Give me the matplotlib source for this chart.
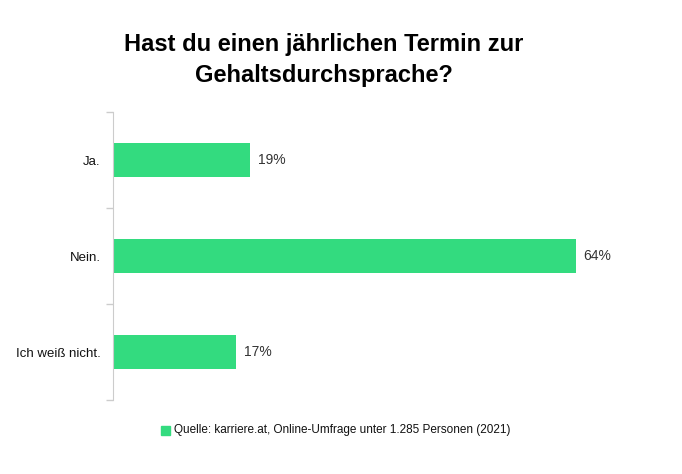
import matplotlib.pyplot as plt
from matplotlib.patches import Rectangle

categories = ["Ja.", "Nein.", "Ich weiß nicht."]
values = [19, 64, 17]
labels = ["19%", "64%", "17%"]
source = "Quelle: karriere.at, Online-Umfrage unter 1.285 Personen (2021)"

plt.rcParams['font.family'] = ["Liberation Sans", "DejaVu Sans"]

green = "#33db7f"
W, H = 682, 474
fig = plt.figure(figsize=(W / 100, H / 100), dpi=100)
left, right, top, bottom = 113, 655, 112, 400
ax = fig.add_axes([left / W, 1 - bottom / H, (right - left) / W, (bottom - top) / H])

y = list(range(len(categories)))
ax.barh(y, values, height=0.35, color=green)
ax.set_ylim(len(categories) - 0.5, -0.5)
ax.set_xlim(0, 75)
for yi, v, lab in zip(y, values, labels):
    ax.text(v + 1.1, yi, lab, va="center", ha="left", fontsize=10, color="#333333")

ax.set_yticks(y)
ax.set_yticklabels(categories, fontsize=9.5, color="#111111")
ax.set_yticks([-0.5, 0.5, 1.5, 2.5], minor=True)
ax.tick_params(axis="y", which="major", length=0, pad=9)
ax.tick_params(axis="y", which="minor", length=5, color="#cccccc", width=1)
ax.set_xticks([])
for s in ["top", "right", "bottom"]:
    ax.spines[s].set_visible(False)
ax.spines["left"].set_color("#cccccc")

fig.text(324 / W, 1 - 60 / H, "Hast du einen jährlichen Termin zur\nGehaltsdurchsprache?",
         ha="center", va="center", fontsize=17, fontweight="bold", linespacing=1.45)

fig.patches.append(Rectangle((161 / W, 1 - 435 / H), 9 / W, 9 / H,
                             transform=fig.transFigure, color=green))
fig.text(174 / W, 1 - 430 / H, source, ha="left", va="center", fontsize=8.5, color="#111111")

fig.savefig("out.png", dpi=100)
